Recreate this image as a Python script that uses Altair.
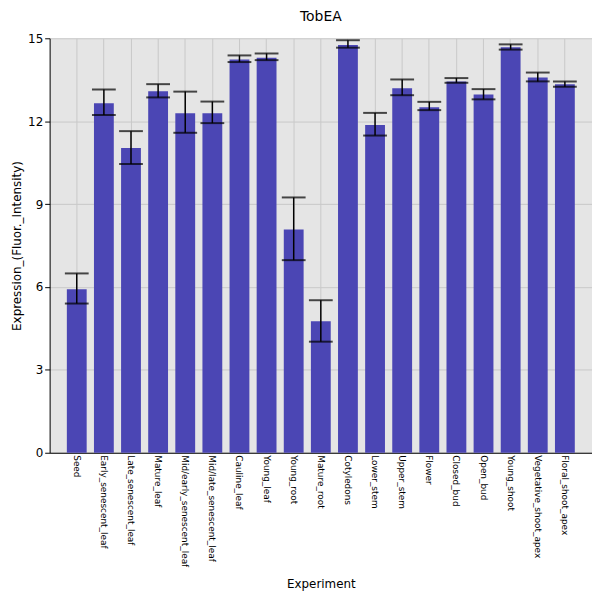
import altair as alt
import pandas as pd

experiments = ["Seed", "Early_senescent_leaf", "Late_senescent_leaf", "Mature_leaf",
               "Mid/early_senescent_leaf", "Mid/late_senescent_leaf", "Cauline_leaf",
               "Young_leaf", "Young_root", "Mature_root", "Cotyledons", "Lower_stem",
               "Upper_stem", "Flower", "Closed_bud", "Open_bud", "Young_shoot",
               "Vegetative_shoot_apex", "Floral_shoot_apex"]
expression = [5.92, 12.65, 11.03, 13.08, 12.29, 12.29, 14.23, 14.30, 8.08, 4.76,
              14.76, 11.86, 13.19, 12.50, 13.44, 12.97, 14.68, 13.58, 13.34]
err_high = [6.49, 13.15, 11.64, 13.34, 13.07, 12.71, 14.38, 14.45, 9.24, 5.52,
            14.93, 12.30, 13.51, 12.70, 13.56, 13.16, 14.78, 13.76, 13.44]
err_low = [5.40, 12.22, 10.45, 12.86, 11.58, 11.93, 14.14, 14.21, 6.97, 4.02,
           14.66, 11.48, 12.94, 12.40, 13.39, 12.79, 14.59, 13.44, 13.25]

df = pd.DataFrame({"Experiment": experiments, "value": expression,
                   "hi": err_high, "lo": err_low})

x_scale = alt.Scale(paddingInner=0, paddingOuter=0.5)
x = alt.X("Experiment:N", sort=experiments, title="Experiment", scale=x_scale,
          axis=alt.Axis(labelAngle=90, labelFontSize=9, labelColor="black",
                        titleFontSize=12, titleFontWeight="normal", titlePadding=12,
                        domainColor="black", tickColor="black", grid=True,
                        gridColor="#c8c8c8", bandPosition=0.5, ticks=False))
x_plain = alt.X("Experiment:N", sort=experiments, scale=x_scale)
y_scale = alt.Scale(domain=[0, 15], nice=False)

bars = alt.Chart(df).mark_bar(color="#4b46b4", size=20).encode(
    x=x,
    y=alt.Y("value:Q", scale=y_scale, title="Expression_(Fluor._Intensity)",
            axis=alt.Axis(values=[0, 3, 6, 9, 12, 15], labelFontSize=12,
                          labelColor="black", titleFontSize=12,
                          titleFontWeight="normal", gridColor="#c8c8c8",
                          domainColor="black", tickColor="black")),
)
rules = alt.Chart(df).mark_rule(color="black", strokeWidth=1.5).encode(
    x=x_plain, y=alt.Y("lo:Q", scale=y_scale), y2="hi:Q")
cap_hi = alt.Chart(df).mark_tick(color="black", size=24, thickness=2, orient="horizontal").encode(
    x=x_plain, y=alt.Y("hi:Q", scale=y_scale))
cap_lo = alt.Chart(df).mark_tick(color="black", size=24, thickness=2, orient="horizontal").encode(
    x=x_plain, y=alt.Y("lo:Q", scale=y_scale))

chart = (bars + rules + cap_hi + cap_lo).properties(
    width=547, height=418,
    title=alt.TitleParams("TobEA", fontSize=14, fontWeight="normal", offset=8),
    autosize=alt.AutoSizeParams(type="none"),
    padding={"left": 42, "top": 28, "right": 0, "bottom": 150},
).configure_view(fill="#e5e5e5", stroke=None).configure_axis(
    labelFont="DejaVu Sans", titleFont="DejaVu Sans"
).configure_title(font="DejaVu Sans")

chart.save("out.html", embed_options={"renderer": "svg", "actions": False})
